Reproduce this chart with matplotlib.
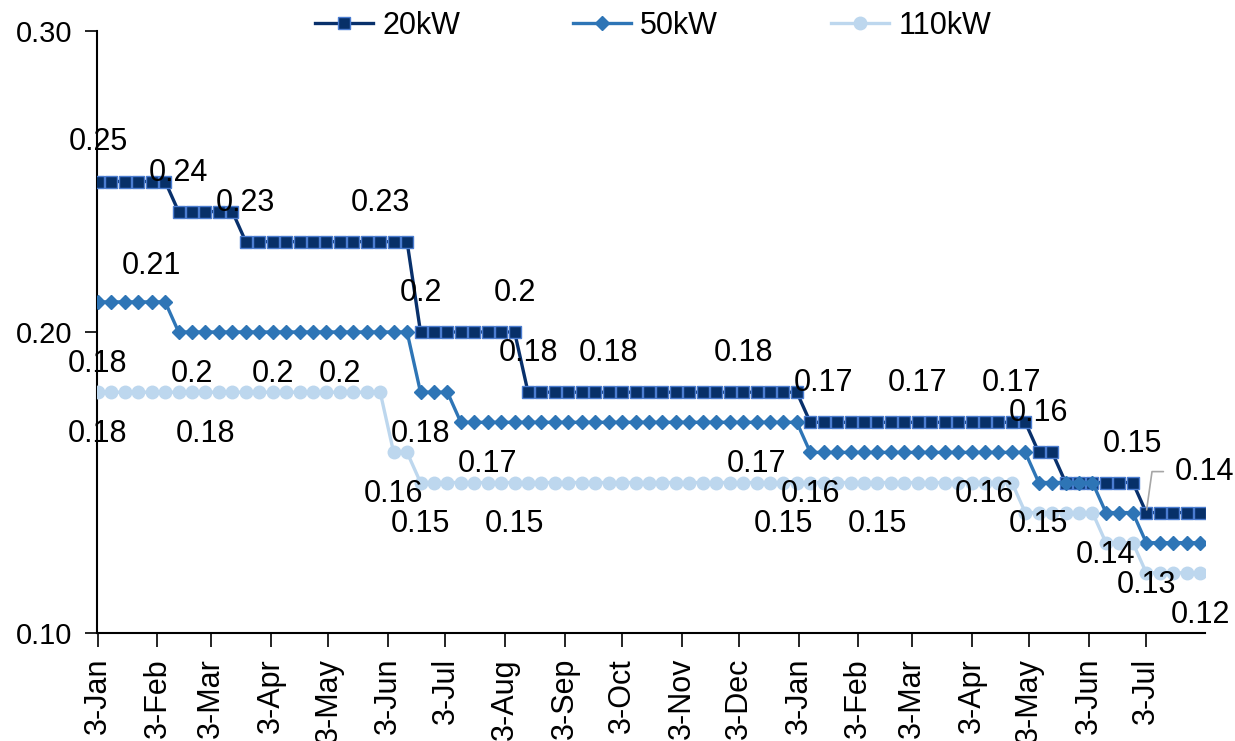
import matplotlib
matplotlib.use("Agg")
import matplotlib.pyplot as plt
import matplotlib.dates as mdates
from matplotlib.ticker import FuncFormatter
import pandas as pd

plt.rcParams['font.family'] = ['Liberation Sans', 'DejaVu Sans']

# Semanas desde el 3 de enero (83 puntos semanales)
fechas = pd.date_range('2022-01-03', periods=83, freq='7D')

# Precio por potencia contratada
p_20kw = [0.25, 0.25, 0.25, 0.25, 0.25, 0.25,
          0.24, 0.24, 0.24, 0.24, 0.24,
          0.23, 0.23, 0.23, 0.23, 0.23, 0.23, 0.23, 0.23, 0.23, 0.23, 0.23, 0.23, 0.23,
          0.20, 0.20, 0.20, 0.20, 0.20, 0.20, 0.20, 0.20,
          0.18, 0.18, 0.18, 0.18, 0.18, 0.18, 0.18, 0.18, 0.18, 0.18, 0.18,
          0.18, 0.18, 0.18, 0.18, 0.18, 0.18, 0.18, 0.18, 0.18, 0.18,
          0.17, 0.17, 0.17, 0.17, 0.17, 0.17, 0.17, 0.17, 0.17, 0.17, 0.17,
          0.17, 0.17, 0.17, 0.17, 0.17, 0.17,
          0.16, 0.16,
          0.15, 0.15, 0.15, 0.15, 0.15, 0.15,
          0.14, 0.14, 0.14, 0.14, 0.14]

p_50kw = [0.21, 0.21, 0.21, 0.21, 0.21, 0.21,
          0.20, 0.20, 0.20, 0.20, 0.20, 0.20, 0.20, 0.20, 0.20,
          0.20, 0.20, 0.20, 0.20, 0.20, 0.20, 0.20, 0.20, 0.20,
          0.18, 0.18, 0.18,
          0.17, 0.17, 0.17, 0.17, 0.17, 0.17, 0.17, 0.17, 0.17, 0.17, 0.17, 0.17, 0.17,
          0.17, 0.17, 0.17, 0.17, 0.17, 0.17, 0.17, 0.17, 0.17, 0.17, 0.17, 0.17, 0.17,
          0.16, 0.16, 0.16, 0.16, 0.16, 0.16, 0.16, 0.16, 0.16, 0.16, 0.16,
          0.16, 0.16, 0.16, 0.16, 0.16, 0.16,
          0.15, 0.15, 0.15, 0.15, 0.15,
          0.14, 0.14, 0.14,
          0.13, 0.13, 0.13, 0.13, 0.13]

p_110kw = [0.18, 0.18, 0.18, 0.18, 0.18, 0.18, 0.18, 0.18, 0.18, 0.18, 0.18,
           0.18, 0.18, 0.18, 0.18, 0.18, 0.18, 0.18, 0.18, 0.18, 0.18, 0.18,
           0.16, 0.16,
           0.15, 0.15, 0.15, 0.15, 0.15, 0.15, 0.15, 0.15, 0.15, 0.15, 0.15,
           0.15, 0.15, 0.15, 0.15, 0.15, 0.15, 0.15, 0.15, 0.15, 0.15, 0.15,
           0.15, 0.15, 0.15, 0.15, 0.15, 0.15, 0.15, 0.15, 0.15, 0.15, 0.15,
           0.15, 0.15, 0.15, 0.15, 0.15, 0.15, 0.15, 0.15, 0.15, 0.15, 0.15, 0.15,
           0.14, 0.14, 0.14, 0.14, 0.14, 0.14,
           0.13, 0.13, 0.13,
           0.12, 0.12, 0.12, 0.12, 0.12]

# Puntos etiquetados (indice semanal) de cada serie
etiq_20kw = [0, 6, 11, 21, 24, 31, 32, 38, 48, 54, 61, 68, 70, 77]
etiq_50kw = [7, 13, 18, 24, 29, 49, 53, 66, 70, 75, 78]
etiq_110kw = [0, 8, 22, 24, 31, 51, 58, 82]

fig = plt.figure(figsize=(12.35, 7.41), dpi=100)
ax = fig.add_axes([97 / 1235, 1 - 633 / 741, 1108 / 1235, 602 / 741])

ax.plot(fechas, p_20kw, color='#08306b', lw=2.4, marker='s', ms=9,
        mfc='#073068', mec='#4a7cd0', mew=1.0, label='20kW', zorder=3)
ax.plot(fechas, p_50kw, color='#2e75b6', lw=2.4, marker='D', ms=7,
        mfc='#2e75b6', mec='#2e75b6', label='50kW', zorder=4)
ax.plot(fechas, p_110kw, color='#bdd7ee', lw=2.4, marker='o', ms=9,
        mfc='#bdd7ee', mec='#bdd7ee', label='110kW', zorder=5)


def etiqueta(serie, i, dy, dx=0):
    ax.annotate(f"{serie[i]:g}", (fechas[i], serie[i]), xytext=(dx, dy),
                textcoords='offset pixels', ha='center', va='center',
                fontsize=22, zorder=6)


for i in etiq_20kw:
    etiqueta(p_20kw, i, 39)
for i in etiq_50kw:
    etiqueta(p_50kw, i, -42)
for i in etiq_110kw:
    etiqueta(p_110kw, i, -42)
etiqueta(p_50kw, 4, 36)
etiqueta(p_110kw, 0, 28)

# 0.14 del 20kW con linea guia
ax.annotate(f"{p_20kw[78]:g}", (fechas[78], p_20kw[78]), xytext=(58, 41),
            textcoords='offset pixels', ha='center', va='center', fontsize=22,
            zorder=6,
            arrowprops=dict(arrowstyle='-', color='#a6a6a6', lw=1.2,
                            relpos=(0, 0.5), shrinkA=6, shrinkB=2,
                            connectionstyle='angle,angleA=0,angleB=82,rad=0'))

ax.set_ylim(0.10, 0.30)
ax.set_yticks([0.10, 0.20, 0.30])
ax.yaxis.set_major_formatter(FuncFormatter(lambda v, p: f"{v:.2f}"))
ax.set_xlim(fechas[0] - pd.Timedelta(days=0.5), fechas[0] + pd.Timedelta(days=576.6))
ax.xaxis.set_major_locator(mdates.MonthLocator(bymonthday=3))
ax.xaxis.set_major_formatter(FuncFormatter(
    lambda v, p: f"{mdates.num2date(v).day}-{mdates.num2date(v):%b}"))

for lado in ['top', 'right']:
    ax.spines[lado].set_visible(False)
for lado in ['left', 'bottom']:
    ax.spines[lado].set_linewidth(1.5)
ax.tick_params(axis='y', labelsize=21, length=9, width=1.2, pad=9)
ax.tick_params(axis='x', labelsize=22, length=10, width=1.2, pad=8, rotation=90)

fig.legend(loc='center', bbox_to_anchor=(653 / 1235, 1 - 26 / 741), ncol=3,
           frameon=False, fontsize=22, handlelength=1.9, columnspacing=3.7,
           handletextpad=0.3)

plt.savefig('out.png', dpi=100)
plt.close()
